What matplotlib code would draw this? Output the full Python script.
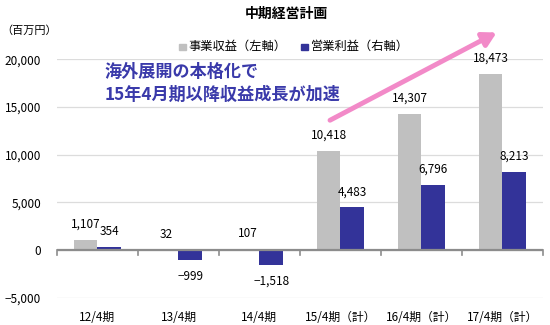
import matplotlib
matplotlib.use("Agg")
import matplotlib.pyplot as plt
import numpy as np

plt.rcParams['font.family'] = ['Noto Sans CJK JP', 'DejaVu Sans']

categories = ["12/4期", "13/4期", "14/4期", "15/4期（計）", "16/4期（計）", "17/4期（計）"]
revenue = [1107, 32, 107, 10418, 14307, 18473]
op_profit = [354, -999, -1518, 4483, 6796, 8213]
yticks = [-5000, 0, 5000, 10000, 15000, 20000]

gray = "#c0c0c0"
navy = "#333399"

fig = plt.figure(figsize=(5.5, 3.25), dpi=100)
ax = fig.add_axes([0.1036, 0.083, 0.8834, 0.735])

x = np.arange(len(categories))
w = 0.29
ax.bar(x - w / 2, revenue, w, color=gray, zorder=3)
ax.bar(x + w / 2, op_profit, w, color=navy, zorder=3)

off = 1650
for xi, v in zip(x, revenue):
    ax.text(xi - w / 2, v + off, f"{v:,}", ha="center", va="center", fontsize=8.5)
for xi, v in zip(x, op_profit):
    if v >= 0:
        ax.text(xi + w / 2, v + off, f"{v:,}", ha="center", va="center", fontsize=8.5)
    else:
        ax.text(xi + w / 2, v - 1750, f"{v:,}".replace("-", "−"),
                ha="center", va="center", fontsize=8.5)

ax.set_xlim(-0.5, len(categories) - 0.5)
ax.set_ylim(-5000, 20000)
ax.set_yticks(yticks)
ax.set_yticklabels([f"{t:,}".replace("-", "−") for t in yticks], fontsize=8.5)
ax.tick_params(axis="y", length=0, pad=11.5)
ax.grid(axis="y", color="#dcdcdc", linewidth=0.9, zorder=0)
for s in ax.spines.values():
    s.set_visible(False)

# zero baseline with category separators
ax.axhline(0, color="#8c8c8c", linewidth=1.6, zorder=4)
for b in np.arange(-0.5, len(categories), 1.0):
    ax.plot([b, b], [0, -450], color="#8c8c8c", linewidth=1.2, zorder=4, clip_on=False)

ax.set_xticks(x)
ax.set_xticklabels(categories, fontsize=8.5)
ax.tick_params(axis="x", length=0, pad=9)

fig.text(0.52, 0.957, "中期経営計画", ha="center", va="center", fontsize=10, fontweight="bold")
fig.text(0.003, 0.905, "（百万円）", ha="left", va="center", fontsize=8)

# legend
fig.patches.append(plt.Rectangle((0.326, 0.846), 0.012, 0.02, color=gray, transform=fig.transFigure))
fig.text(0.343, 0.856, "事業収益（左軸）", ha="left", va="center", fontsize=8.8)
fig.patches.append(plt.Rectangle((0.548, 0.846), 0.012, 0.02, color=navy, transform=fig.transFigure))
fig.text(0.565, 0.856, "営業利益（右軸）", ha="left", va="center", fontsize=8.8)

# message and trend arrow
msg_color = "#3a3aaa"
fig.text(0.19, 0.778, "海外展開の本格化で", ha="left", va="center",
         fontsize=12.3, fontweight="bold", color=msg_color)
fig.text(0.19, 0.708, "15年4月期以降収益成長が加速", ha="left", va="center",
         fontsize=12.3, fontweight="bold", color=msg_color)
ax.annotate("", xy=(0.903, 0.9), xytext=(0.6, 0.63), xycoords="figure fraction",
            textcoords="figure fraction",
            arrowprops=dict(arrowstyle="-|>,head_length=0.8,head_width=0.45", color="#f28ac8",
                            linewidth=3.5, shrinkA=0, shrinkB=0))

fig.savefig("out.png", dpi=100)
